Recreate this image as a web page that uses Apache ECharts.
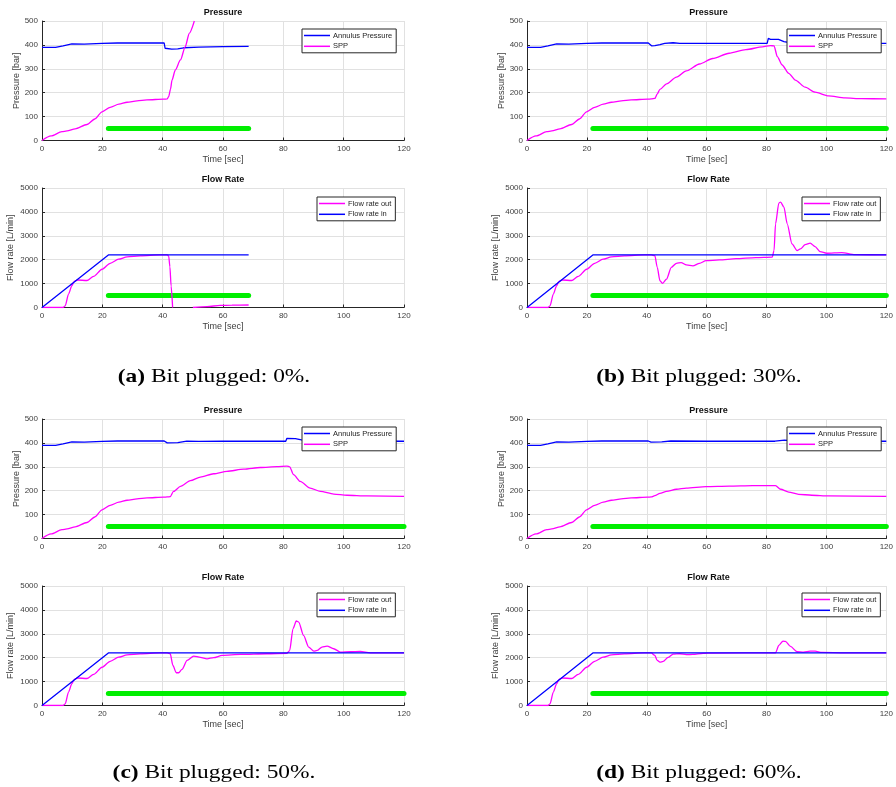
<!DOCTYPE html>
<html>
<head>
<meta charset="utf-8">
<script src="https://cdn.jsdelivr.net/npm/echarts@6/dist/echarts.min.js"></script>
<style>
  html, body { margin: 0; padding: 0; background: #ffffff; }
  #chart { width: 896px; height: 787px; }
</style>
</head>
<body>
<div id="chart"></div>
<script>
// ---------------------------------------------------------------
// Data: [time (s), value] pairs
// ---------------------------------------------------------------
const timeTicks = [0, 20, 40, 60, 80, 100, 120];

// start-up phase shared by every case (0 - 42 s)
const annStart = [[0,390],[4.5,390],[7,396],[9.9,404],[14,403],[20,406],[25,408],[40.5,408]];
const sppStart = [[0,0],[3,19],[6.6,37],[8.3,40],[11,49],[14.9,67],[17.5,90],[19.9,120],[22.6,139],[25.5,152],[28.2,160],[31.5,166],[34.8,170],[40.3,173],[41.5,174]];
const outStart = [[0,0],[7,0],[7.7,70],[8.8,560],[9.9,910],[10.7,1095],[11.8,1150],[14.9,1130],[17.1,1300],[19.9,1600],[22.6,1850],[25.4,2020],[28.2,2120],[32.6,2160],[39.2,2200],[41.5,2200]];

// (a) bit plugged 0 %
const annA = annStart.concat([[40.8,386],[43,382],[45,383],[47,388],[52,391],[60,393],[68.5,394]]);
const sppA = sppStart.concat([[42,184],[42.6,215],[43.1,253],[44.2,295],[45.9,337],[47.5,393],[48.8,448],[50.5,500]]);
const outA = outStart.concat([[42,2150],[42.4,1700],[42.8,900],[43.3,0],[46,null],[50,0],[54.7,40],[59.1,85],[63,100],[68.5,105]]);
const inA  = [[0,0],[22,2200],[68.5,2200]];
const spanA = [22, 68.5];

// (b) bit plugged 30 %
const annB = annStart.concat([[41,408],[41.6,396],[42.7,397],[44.4,401],[46,406],[48.8,409],[51,406],[60,406],[80.2,406],[80.6,427],[81,430],[81.3,423],[84,423],[85.8,414],[88,409],[95,407],[120,406]]);
const sppB = sppStart.concat([[42.7,176],[43.5,195],[44.4,214],[46.6,237],[49.9,265],[53.2,291],[57.6,320],[62,343],[67.5,365],[73.1,380],[78.6,392],[81.3,397],[82.5,396],[83.6,351],[85.2,316],[87.4,281],[89.6,253],[92.9,223],[96.2,202],[100.7,187],[106.2,178],[111.7,175],[120,174]]);
const outB = outStart.concat([[42.7,2170],[43.5,1680],[44.4,1120],[45.3,1010],[46.6,1190],[48.2,1680],[49.9,1850],[51.5,1880],[53.2,1780],[55.4,1740],[57.6,1850],[59.8,1960],[64.3,1990],[69.8,2045],[76.4,2090],[81.9,2110],[82.5,2380],[83,3500],[84.1,4370],[84.7,4410],[85.8,4200],[86.9,3500],[88.5,2660],[90.2,2380],[91.3,2450],[92.9,2630],[94.6,2690],[96.2,2550],[97.9,2340],[100.1,2270],[105.1,2300],[109.5,2210],[120,2200]]);
const inB  = [[0,0],[22,2200],[120,2200]];
const spanB = [22, 120];

// (c) bit plugged 50 %
const annC = annStart.concat([[41,408],[41.5,400],[45,401],[48,407],[52,406],[60,407],[80.8,407],[81.2,419],[84,418],[86,413],[88,409],[100,408],[120,407]]);
const sppC = sppStart.concat([[42.5,175],[43.6,197],[45.9,218],[49.2,242],[52.5,257],[56.9,271],[61.3,281],[66.9,290],[72.4,297],[77.9,301],[81.2,303],[82.1,300],[83.4,267],[85.6,239],[88.9,211],[92.3,197],[96.7,186],[101.1,181],[107.7,178],[120,176]]);
const outC = outStart.concat([[42.5,2165],[43.4,1675],[44.5,1370],[45.3,1370],[46.4,1510],[48.1,1885],[50.3,2070],[52.5,2010],[54.7,1955],[56.9,2000],[59.7,2095],[65.8,2135],[74.6,2165],[81.2,2180],[82.1,2300],[83.2,3210],[84.3,3535],[85.1,3490],[86.7,2930],[88.4,2445],[90.1,2275],[91.2,2305],[92.8,2445],[94.5,2485],[96.7,2375],[98.9,2235],[102.2,2250],[105.5,2265],[108.8,2205],[120,2200]]);
const inC  = [[0,0],[22,2200],[120,2200]];
const spanC = [22, 120];

// (d) bit plugged 60 %
const annD = annStart.concat([[41,408],[41.4,403],[45,404],[48,408],[60,407],[82.8,407],[83.1,412],[86,412],[88,409],[100,408],[120,407]]);
const sppD = sppStart.concat([[42.7,179],[44.4,189],[46.6,197],[49.9,206],[53.2,211],[59.8,217],[67.5,219],[75.3,221],[83,221],[84.7,206],[87.4,194],[90.7,185],[95.1,181],[100.7,178],[120,176]]);
const outD = outStart.concat([[42.7,2095],[43.5,1885],[44.4,1815],[45.5,1845],[47.1,2010],[48.8,2150],[51,2165],[53.2,2125],[55.4,2135],[58.8,2180],[62,2195],[83,2205],[84.1,2515],[85.5,2695],[86.3,2680],[88,2470],[90.2,2250],[92.4,2235],[94.6,2275],[96.2,2275],[98.5,2220],[106.2,2205],[120,2200]]);
const inD  = [[0,0],[22,2200],[120,2200]];
const spanD = [22, 120];

// level at which the active-period bar is drawn in each plot
const barLevelPressure = 50;
const barLevelFlow = 500;

const captions = [
  ['(a)', ' Bit plugged: 0%.'],
  ['(b)', ' Bit plugged: 30%.'],
  ['(c)', ' Bit plugged: 50%.'],
  ['(d)', ' Bit plugged: 60%.']
];

// ---------------------------------------------------------------
// Layout and style
// ---------------------------------------------------------------
const SANS = '"Liberation Sans", Arial, Helvetica, sans-serif';
const SERIF = '"Liberation Serif", "Times New Roman", serif';
const BLUE = '#0000ff';
const MAGENTA = '#ff00ff';
const GREEN = '#00ee00';
const AXIS = '#262626';
const TICKTXT = '#404040';
const GRIDLINE = '#e1e1e1';

const cols = [
  { left: 42,  center: 223,   legP: 302, legF: 317, cap: 214 },
  { left: 527, center: 708.5, legP: 787, legF: 802, cap: 699 }
];
const rows = [
  { pTop: 21,  fTop: 188, pTitle: 13,  fTitle: 180, legP: 29,  legF: 197, cap: 377, pressureTimeName: true },
  { pTop: 419, fTop: 586, pTitle: 411, fTitle: 578, legP: 427, legF: 593, cap: 773, pressureTimeName: false }
];
const PLOT_W = 362;
const PLOT_H = 119.5;

const panels = [
  { c: 0, r: 0, ann: annA, spp: sppA, out: outA, inn: inA, span: spanA },
  { c: 1, r: 0, ann: annB, spp: sppB, out: outB, inn: inB, span: spanB },
  { c: 0, r: 1, ann: annC, spp: sppC, out: outC, inn: inC, span: spanC },
  { c: 1, r: 1, ann: annD, spp: sppD, out: outD, inn: inD, span: spanD }
];

const grid = [], xAxis = [], yAxis = [], series = [], legend = [], graphic = [];

const plainNumber = function (v) { return String(v); };

function addAxes(idx, left, top, yMax, yInterval, yName, yGap, showTimeName) {
  grid.push({ left: left, top: top, width: PLOT_W, height: PLOT_H, containLabel: false });
  xAxis.push({
    type: 'value', gridIndex: idx, min: timeTicks[0], max: timeTicks[timeTicks.length - 1],
    interval: timeTicks[1] - timeTicks[0],
    name: showTimeName ? 'Time [sec]' : '', nameLocation: 'middle', nameGap: 15,
    nameTextStyle: { fontFamily: SANS, fontSize: 9, color: TICKTXT },
    axisLine: { show: true, onZero: false, lineStyle: { color: AXIS, width: 1 } },
    axisTick: { show: true, inside: true, length: 3, lineStyle: { color: AXIS } },
    axisLabel: { fontFamily: SANS, fontSize: 8, color: TICKTXT, margin: 4, formatter: plainNumber },
    splitLine: { show: true, lineStyle: { color: GRIDLINE, width: 1 } }
  });
  yAxis.push({
    type: 'value', gridIndex: idx, min: 0, max: yMax, interval: yInterval,
    name: yName, nameLocation: 'middle', nameGap: yGap,
    nameTextStyle: { fontFamily: SANS, fontSize: 9, color: TICKTXT },
    axisLine: { show: true, onZero: false, lineStyle: { color: AXIS, width: 1 } },
    axisTick: { show: true, inside: true, length: 3, lineStyle: { color: AXIS } },
    axisLabel: { fontFamily: SANS, fontSize: 8, color: TICKTXT, margin: 4, formatter: plainNumber },
    splitLine: { show: true, lineStyle: { color: GRIDLINE, width: 1 } }
  });
}

function lineSeries(name, idx, data, color, smooth) {
  return {
    type: 'line', name: name, xAxisIndex: idx, yAxisIndex: idx, data: data,
    symbol: 'none', showSymbol: false, smooth: smooth ? 0.25 : false,
    smoothMonotone: smooth ? 'x' : undefined,
    connectNulls: false, clip: true, animation: false, silent: true,
    lineStyle: { color: color, width: 1.3 }, itemStyle: { color: color }, z: 3
  };
}

function barSeries(idx, span, level) {
  return {
    type: 'line', name: 'Active period', xAxisIndex: idx, yAxisIndex: idx,
    data: [[span[0], level], [span[1], level]],
    symbol: 'none', showSymbol: false, clip: false, animation: false, silent: true,
    lineStyle: { color: GREEN, width: 5, cap: 'round' }, itemStyle: { color: GREEN }, z: 2
  };
}

function legendBox(left, top, names) {
  return {
    orient: 'vertical', left: left, top: top, data: names,
    icon: 'rect', itemWidth: 26, itemHeight: 1.5, itemGap: 1.8,
    backgroundColor: '#ffffff', borderColor: AXIS, borderWidth: 1, borderRadius: 0,
    padding: [2, 4, 2, 2],
    selectedMode: false, z: 10,
    textStyle: { fontFamily: SANS, fontSize: 7.5, lineHeight: 9, color: AXIS, padding: [0, 0, 0, -2] }
  };
}

function titleText(x, y, text) {
  return {
    type: 'text', x: x, y: y, silent: true, z: 20,
    style: {
      text: text, x: 0, y: 0, align: 'center', verticalAlign: 'middle',
      textAlign: 'center', textVerticalAlign: 'middle',
      fontFamily: SANS, fontSize: 9, fontWeight: 'bold', fill: '#111111'
    }
  };
}

panels.forEach(function (p, i) {
  const col = cols[p.c], row = rows[p.r];
  const gP = i * 2, gF = i * 2 + 1;

  addAxes(gP, col.left, row.pTop, 500, 100, 'Pressure [bar]', 21, row.pressureTimeName);
  addAxes(gF, col.left, row.fTop, 5000, 1000, 'Flow rate [L/min]', 27, true);

  series.push(lineSeries('Annulus Pressure', gP, p.ann, BLUE, false));
  series.push(lineSeries('SPP', gP, p.spp, MAGENTA, true));
  series.push(barSeries(gP, p.span, barLevelPressure));

  series.push(lineSeries('Flow rate out', gF, p.out, MAGENTA, true));
  series.push(lineSeries('Flow rate in', gF, p.inn, BLUE, false));
  series.push(barSeries(gF, p.span, barLevelFlow));

  legend.push(legendBox(col.legP, row.legP, ['Annulus Pressure', 'SPP']));
  legend.push(legendBox(col.legF, row.legF, ['Flow rate out', 'Flow rate in']));

  graphic.push(titleText(col.center, row.pTitle, 'Pressure'));
  graphic.push(titleText(col.center, row.fTitle, 'Flow Rate'));

  graphic.push({
    type: 'text', x: col.cap, y: row.cap, scaleX: 1.2, scaleY: 1, silent: true, z: 20,
    style: {
      text: '{b|' + captions[i][0] + '}' + captions[i][1],
      x: 0, y: 0, align: 'center', verticalAlign: 'middle',
      textAlign: 'center', textVerticalAlign: 'middle',
      fontFamily: SERIF, fontSize: 19.5, fill: '#000000',
      rich: { b: { fontFamily: SERIF, fontSize: 19.5, fontWeight: 'bold', fill: '#000000' } }
    }
  });
});

const chart = echarts.init(document.getElementById('chart'), null, { renderer: 'canvas' });
chart.setOption({
  animation: false,
  backgroundColor: '#ffffff',
  grid: grid,
  xAxis: xAxis,
  yAxis: yAxis,
  legend: legend,
  series: series,
  graphic: graphic
});
</script>
</body>
</html>
